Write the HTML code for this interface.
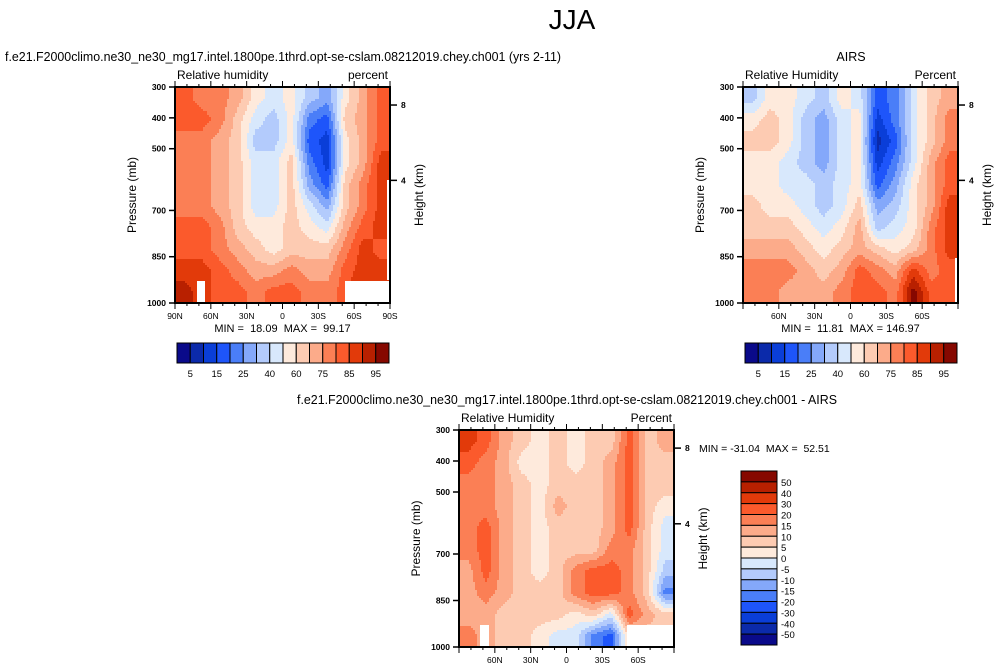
<!DOCTYPE html>
<html><head><meta charset="utf-8"><style>
html,body{margin:0;padding:0;background:#fff;}
svg{display:block;font-family:"Liberation Sans",Arial,sans-serif;}
text{white-space:pre;}
</style></head><body>
<svg id="fig" width="999" height="671" viewBox="0 0 999 671" xmlns="http://www.w3.org/2000/svg">
<defs>
<clipPath id="c1"><rect x="175" y="87" width="215" height="216"/></clipPath>
<clipPath id="c2"><rect x="743" y="87" width="215" height="216"/></clipPath>
<clipPath id="c3"><rect x="459" y="430" width="215" height="217"/></clipPath>
</defs>
<text x="572" y="29" font-size="28" text-anchor="middle">JJA</text>
<text x="5" y="61" font-size="12.5" textLength="556" lengthAdjust="spacingAndGlyphs">f.e21.F2000climo.ne30_ne30_mg17.intel.1800pe.1thrd.opt-se-cslam.08212019.chey.ch001 (yrs 2-11)</text>
<text x="851" y="61" font-size="12.5" text-anchor="middle">AIRS</text>
<text x="567" y="404" font-size="12.5" text-anchor="middle" textLength="540" lengthAdjust="spacingAndGlyphs">f.e21.F2000climo.ne30_ne30_mg17.intel.1800pe.1thrd.opt-se-cslam.08212019.chey.ch001 - AIRS</text>
<g id="root"></g>
</svg>
<script>
const colors=["#0a0a8a","#0b2aaa","#0a3ed8","#1e55fa","#4a7ef8","#84a8fa","#b3cbfc","#d8e8fc","#feeadc","#fdcbb2","#fcab8a","#fb7f55","#fb5a2c","#e23a0a","#b82000","#860800"];
const latLabels1=["90N","60N","30N","0","30S","60S","90S"];
const latLabels2=["60N","30N","0","30S","60S"];
const pressTicks=[300,400,500,700,850,1000];
const heightTicks=[8,4];
const cbLabels=["5","15","25","40","60","75","85","95"];
const diffLabels=["50","40","30","20","15","10","5","0","-5","-10","-15","-20","-30","-40","-50"];
const modelGrid=[
[12,11,11,10,8,7,8,6,5,8,10,12],
[12,12,11,9,7,6,8,4,3,9,10,12],
[11,11,10,9,6,6,8,3,2,8,10,12],
[11,11,10,9,7,7,9,4,2,8,10,13],
[11,11,10,9,7,7,9,5,3,9,11,13],
[11,11,10,9,7,7,9,7,5,9,11,13],
[12,12,11,9,8,8,9,8,7,10,12,13],
[12,12,11,10,9,8,9,9,9,11,13,12],
[13,13,12,11,10,10,11,10,10,12,13,13],
[14,13,12,12,11,12,12,11,11,12,14,12]];
const airsGrid=[
[6,8,8,7,6,8,7,3,4,7,9,10],
[8,9,8,6,5,7,8,2,4,7,9,11],
[9,9,8,6,5,7,8,1,3,7,9,11],
[8,8,7,6,5,7,8,2,4,7,10,12],
[8,8,7,7,6,7,8,3,5,8,10,12],
[9,8,8,7,6,7,9,5,6,8,10,13],
[9,9,9,8,7,8,10,6,7,8,11,13],
[10,10,10,9,8,9,10,9,8,9,11,13],
[11,11,11,10,9,10,12,11,10,13,11,12],
[11,11,10,10,10,11,12,12,11,15,12,12]];
const diffGrid=[
[13,12,10,9,8,9,8,9,9,12,9,10],
[12,11,10,8,8,9,8,9,10,12,9,9],
[11,11,10,9,8,9,9,9,10,12,9,9],
[11,11,10,9,8,10,9,9,10,12,9,8],
[11,12,10,9,8,9,9,9,10,12,9,7],
[11,12,10,9,8,9,9,9,11,11,9,7],
[10,12,10,9,8,9,11,12,12,11,9,6],
[10,11,10,9,9,9,11,12,12,11,9,4],
[10,10,9,9,9,9,8,9,7,12,10,9],
[11,10,9,9,8,7,7,4,3,9,9,9]];
const NS="http://www.w3.org/2000/svg";
const root=document.getElementById('root');
function mk(tag,attrs,parent){const e=document.createElementNS(NS,tag);for(const k in attrs)e.setAttribute(k,attrs[k]);(parent||root).appendChild(e);return e;}
function txt(x,y,s,size,anchor,parent){const t=mk('text',{x:x,y:y,'font-size':size,'text-anchor':anchor||'start'},parent);t.textContent=s;return t;}

function sample(grid,fx,fy){
  const nr=grid.length,nc=grid[0].length;
  fx=Math.max(0,Math.min(nc-1,fx));fy=Math.max(0,Math.min(nr-1,fy));
  const i=Math.min(nc-2,Math.floor(fx)),j=Math.min(nr-2,Math.floor(fy));
  const tx=fx-i,ty=fy-j;
  const a=grid[j][i]*(1-tx)+grid[j][i+1]*tx;
  const b=grid[j+1][i]*(1-tx)+grid[j+1][i+1]*tx;
  return a*(1-ty)+b*ty;
}
function panel(o){
  const g=mk('g',{});
  
  
  const {x0,y0,w,h}=o;
  const xs=lat=>x0+(90-lat)/180*w;
  const ys=p=>y0+(p-300)/700*h;
  const cg=mk('g',{'clip-path':'url(#'+o.clip+')'},g);
  const grid=o.grid, nr=grid.length, nc=grid[0].length;
  const step=2;
  for(let py=0;py<h;py+=step){
    let runStart=0,runIdx=-1;
    const fy=(py+step/2)/h*nr-0.5;
    for(let px=0;;px+=step){
      const end=px>=w;
      let idx=-2;
      if(!end){const fx=(px+step/2)/w*nc-0.5;idx=Math.max(0,Math.min(15,Math.round(sample(grid,fx,fy))));}
      if(idx!==runIdx){
        if(runIdx>=0){const rc=mk('rect',{x:x0+runStart,y:y0+py,width:Math.min(px,w)-runStart+0.6,height:step+0.6,fill:colors[runIdx]},cg);
          }
        runStart=px;runIdx=idx;
      }
      if(end)break;
    }
  }
  (o.blanks||[]).forEach(b=>{const br=mk('rect',{x:b[0],y:b[1],width:b[2],height:b[3],fill:'#fff'},cg);
    });
  mk('rect',{x:x0,y:y0,width:w,height:h,fill:'none',stroke:'#000','stroke-width':2},g);
  pressTicks.forEach(p=>{const y=ys(p);mk('line',{x1:x0-6,x2:x0,y1:y,y2:y,stroke:'#000','stroke-width':1.5},g);
    const t=txt(x0-9,y+3,String(p),8.5,'end',g);t.setAttribute('font-weight','bold');});
  heightTicks.forEach(km=>{const p=1013*Math.exp(-km/7.7);const y=ys(p);
    mk('line',{x1:x0+w,x2:x0+w+7,y1:y,y2:y,stroke:'#000','stroke-width':1.5},g);
    const t=txt(x0+w+11,y+3,String(km),8.5,'start',g);t.setAttribute('font-weight','bold');});
  for(let lat=90;lat>=-90;lat-=10){const x=xs(lat);const major=lat%30===0;
    mk('line',{x1:x,x2:x,y1:y0+h,y2:y0+h+(major?6:3),stroke:'#000','stroke-width':1},g);
    mk('line',{x1:x,x2:x,y1:y0,y2:y0-(major?6:3),stroke:'#000','stroke-width':1},g);}
  o.labels.forEach((s,i)=>{const lat=o.labels===latLabels1?90-i*30:60-i*30;
    txt(xs(lat),y0+h+16,s,8.5,'middle',g);});
  txt(x0+2,y0-8,o.left,12,'start',g);
  txt(x0+w-2,y0-8,o.right,12,'end',g);
  const yl=txt(0,0,'Pressure (mb)',12,'middle',g);yl.setAttribute('transform','translate('+(x0-39)+','+(y0+h/2)+') rotate(-90)');
  
  const hl=txt(0,0,'Height (km)',12,'middle',g);hl.setAttribute('transform','translate('+(x0+w+33)+','+(y0+h/2)+') rotate(-90)');
  
  if(o.minmax)txt(x0+w/2,y0+h+29,o.minmax,11,'middle',g);
  return g;
}
function hbar(x0,y0,w,h){
  const g=mk('g',{});
  
  
  const n=colors.length, bw=w/n;
  colors.forEach((c,i)=>{const r=mk('rect',{x:x0+i*bw,y:y0,width:bw,height:h,fill:c,stroke:'#000','stroke-width':1},g);
    });
  cbLabels.forEach((s,i)=>{txt(x0+(2*i+1)*bw,y0+h+14,s,9.5,'middle',g);});
}
function vbar(x0,y0,w,h){
  const g=mk('g',{});
  
  
  const n=colors.length, bh=h/n;
  colors.forEach((c,i)=>{const r=mk('rect',{x:x0,y:y0+i*bh,width:w,height:bh,fill:colors[n-1-i],stroke:'#000','stroke-width':1},g);
    });
  diffLabels.forEach((s,i)=>{txt(x0+w+4,y0+(i+1)*bh+4,s,9.5,'start',g);});
}
panel({name:'model-panel',x0:175,y0:87,w:215,h:216,clip:'c1',grid:modelGrid,labels:latLabels1,left:'Relative humidity',right:'percent',minmax:'MIN =  18.09  MAX =  99.17',
  blanks:[[197,281,8,22],[345,281,45,22],[387,180,3,100]]});
panel({name:'airs-panel',x0:743,y0:87,w:215,h:216,clip:'c2',grid:airsGrid,labels:latLabels2,left:'Relative Humidity',right:'Percent',minmax:'MIN =  11.81  MAX = 146.97',
  blanks:[[955,258,3,45]]});
panel({name:'diff-panel',x0:459,y0:430,w:215,h:217,clip:'c3',grid:diffGrid,labels:latLabels2,left:'Relative Humidity',right:'Percent',minmax:null,
  blanks:[[480,625,9,22],[627,625,47,22]]});
hbar(177,343,212,20);
hbar(745,343,212,20);
vbar(741,471,36,174);
const mm=txt(699,452,'MIN = -31.04  MAX =  52.51',10.5,'start');

</script>
</body></html>
